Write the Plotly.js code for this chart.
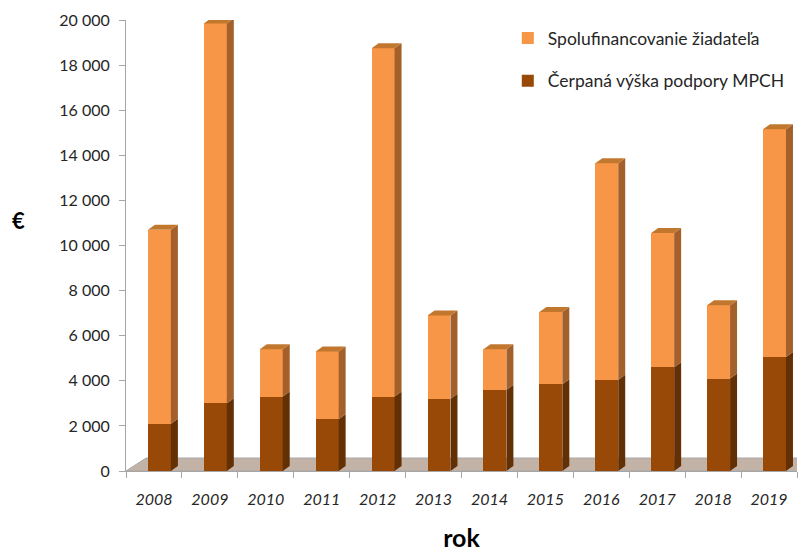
<!DOCTYPE html>
<html><head><meta charset="utf-8">
<script src="https://cdn.plot.ly/plotly-3.0.1.min.js"></script>
<style>body{margin:0;background:#fff}</style></head>
<body><div id="chart" style="width:804px;height:552px"></div>
<script>
const years = ['2008','2009','2010','2011','2012','2013','2014','2015','2016','2017','2018','2019'];
const podpora = [2100,3000,3300,2300,3300,3200,3600,3850,4050,4600,4100,5050];
const spolufin = [8600,16850,2100,3000,15450,3700,1800,3200,9600,5950,3250,10100];
const seriesNames = ['Čerpaná výška podpory MPCH','Spolufinancovanie žiadateľa'];
const yTicks = [0,2000,4000,6000,8000,10000,12000,14000,16000,18000,20000];

const colFrontDark = '#984807', colSideDark = '#633005';
const colFrontOr = '#F79646', colSideOr = '#A3602B', colTopOr = '#C2772F';
const OFF = -0.107, W = 0.41, DX = 0.125, DY = 222;

const idx = years.map((_, i) => i);
const shapes = [];
// floor
shapes.push({type:'path', xref:'x', yref:'y', layer:'below',
  path:`M -0.5,0 L 11.5,0 L 11.86,575 L -0.14,575 Z`,
  fillcolor:'#C3B3A6', line:{color:'#A6A6A6', width:1}});
function para(x0, ya, yb, fill){
  return {type:'path', xref:'x', yref:'y', layer:'above',
    path:`M ${x0},${ya} L ${x0},${yb} L ${x0+DX},${yb+DY} L ${x0+DX},${ya+DY} Z`,
    fillcolor:fill, line:{width:0}};
}
idx.forEach(i => {
  const R = i + OFF + W, L = i + OFF;
  const b = podpora[i], t = podpora[i] + spolufin[i];
  shapes.push(para(R, 0, b, colSideDark));
  shapes.push(para(R, b, t, colSideOr));
  shapes.push({type:'path', xref:'x', yref:'y', layer:'above',
    path:`M ${L},${t} L ${R},${t} L ${R+DX},${t+DY} L ${L+DX},${t+DY} Z`,
    fillcolor:colTopOr, line:{width:0}});
});

const traces = [
  {type:'bar', x:idx, y:podpora, name:seriesNames[0], width:W, offset:OFF,
   marker:{color:colFrontDark, line:{width:0}}, legendgroup:'a', legendrank:2},
  {type:'bar', x:idx, y:spolufin, name:seriesNames[1], width:W, offset:OFF,
   marker:{color:colFrontOr, line:{width:0}}, legendgroup:'b', legendrank:1}
];
const boundaries = [...idx.map(i => i - 0.5), years.length - 0.5];

const layout = {
  width:804, height:552, margin:{l:126, r:7, t:20, b:81},
  paper_bgcolor:'#fff', plot_bgcolor:'#fff',
  barmode:'stack', separators:', ',
  font:{family:'Lato, "Open Sans", sans-serif', size:16, color:'#262626'},
  showlegend:true,
  legend:{x:0.569, xanchor:'left', y:1.0, yanchor:'top', tracegroupgap:17,
    traceorder:'grouped',
    font:{size:17.5, color:'#262626'}, bgcolor:'rgba(0,0,0,0)'},
  xaxis:{range:[-0.5, 11.5], tickmode:'array', tickvals:idx, ticktext:years,
    ticks:'outside', ticklen:14, tickcolor:'rgba(0,0,0,0)',
    tickfont:{size:16, style:'italic', color:'#262626'},
    showline:true, linecolor:'#A6A6A6', linewidth:1, showgrid:false, zeroline:false,
    minor:{tickmode:'array', tickvals:boundaries, ticks:'outside', ticklen:6, tickcolor:'#A6A6A6', showgrid:false},
    title:{text:'rok', font:{size:25, weight:'bold', color:'#000'}, standoff:22}},
  yaxis:{range:[0,20000], tickmode:'array', tickvals:yTicks, tickformat:',d', separatethousands:true,
    ticks:'outside', ticklen:6, tickcolor:'#A6A6A6', ticklabelstandoff:6,
    showline:true, linecolor:'#A6A6A6', linewidth:1, showgrid:false, zeroline:false,
    tickfont:{size:16, color:'#262626'}},
  shapes:shapes,
  annotations:[{text:'€', xref:'paper', yref:'paper', x:-0.16, y:0.555, showarrow:false,
    xanchor:'center', font:{size:22, weight:'bold', color:'#000'}}]
};
Plotly.newPlot('chart', traces, layout, {displayModeBar:false, staticPlot:true});
</script></body></html>
